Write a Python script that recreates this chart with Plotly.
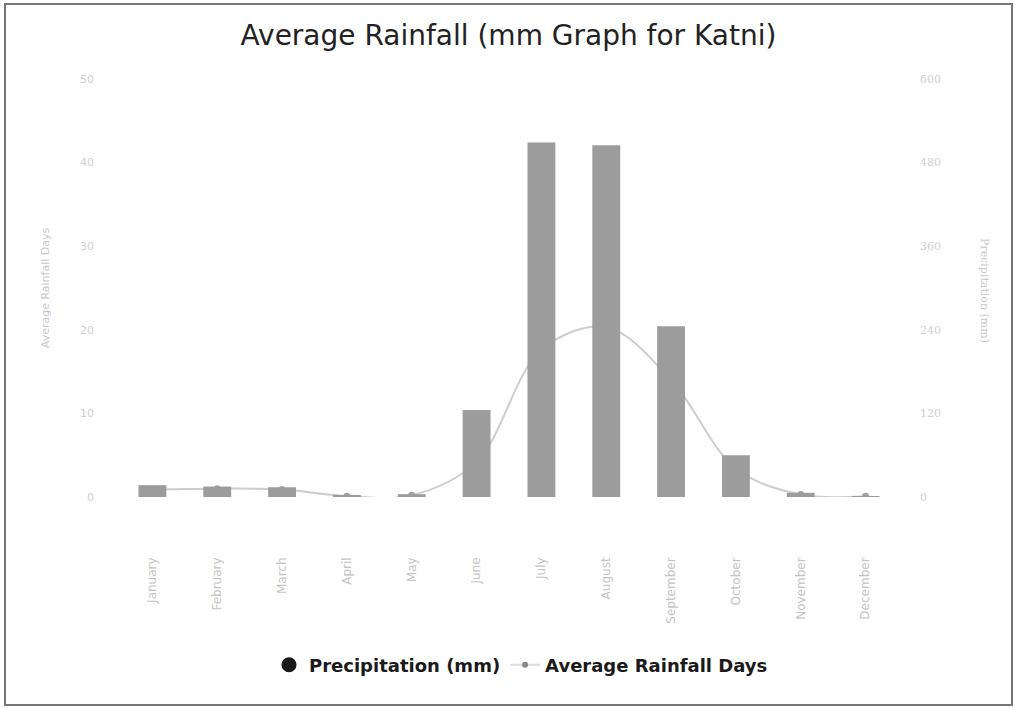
import plotly.graph_objects as go

months = ["January", "February", "March", "April", "May", "June", "July",
          "August", "September", "October", "November", "December"]
precip_mm = [17, 15, 14, 3, 4, 125, 509, 505, 245, 60, 6, 1]
rain_days = [0.9, 1.0, 0.9, 0.1, 0.2, 4.2, 17.6, 20.3, 14.0, 3.4, 0.3, 0.1]
left_ticks = [0, 10, 20, 30, 40, 50]
right_ticks = [0, 120, 240, 360, 480, 600]

W, H = 1017, 708
L, R, T, B = 120, 119, 79, 211
pw, ph = W - L - R, H - T - B

fig = go.Figure()
fig.add_trace(go.Bar(
    x=months, y=precip_mm, yaxis="y2", name="Precipitation (mm)",
    marker=dict(color="#9c9c9c", line=dict(width=0)), showlegend=False,
))
fig.add_trace(go.Scatter(
    x=months, y=rain_days, yaxis="y", name="Average Rainfall Days",
    mode="lines+markers", line=dict(color="#cdcdcd", width=2, shape="spline"),
    marker=dict(color="#a0a0a0", size=7), showlegend=False,
))
# legend entries
fig.add_trace(go.Scatter(
    x=[None], y=[None], name="Precipitation (mm)", mode="markers",
    marker=dict(color="#1a1a1a", size=15, symbol="circle"),
))
fig.add_trace(go.Scatter(
    x=[None], y=[None], name="Average Rainfall Days", mode="lines+markers",
    line=dict(color="#dddddd", width=2), marker=dict(color="#888888", size=6),
))

def px_x(x):
    return (x - L) / pw

def px_y(y):
    return (H - B - y) / ph

fig.update_layout(
    width=W, height=H,
    margin=dict(l=L, r=R, t=T, b=B, autoexpand=False),
    paper_bgcolor="white", plot_bgcolor="white",
    title=dict(text="Average Rainfall (mm Graph for Katni)", x=0.5, xanchor="center",
               y=1 - 35 / H, yanchor="middle",
               font=dict(family="DejaVu Sans", size=28, color="#222222")),
    bargap=0.57,
    xaxis=dict(
        range=[-0.5, len(months) - 0.5],
        tickangle=-90, showgrid=False, zeroline=False, showline=False,
        ticks="", ticklabelstandoff=57, automargin=False,
        tickfont=dict(family="DejaVu Sans", size=12, color="#c4c4c4"),
    ),
    yaxis=dict(
        range=[0, 50], tickvals=left_ticks, showgrid=False, zeroline=False,
        showline=False, ticks="", ticklabelstandoff=25, automargin=False,
        tickfont=dict(family="DejaVu Sans", size=11, color="#cfcfcf"),
        title=dict(text="Average Rainfall Days", standoff=28,
                   font=dict(family="DejaVu Sans", size=11, color="#c8c8c8")),
    ),
    yaxis2=dict(
        range=[0, 600], tickvals=right_ticks, overlaying="y", side="right",
        showgrid=False, zeroline=False, showline=False, ticks="",
        ticklabelstandoff=21, automargin=False,
        tickfont=dict(family="DejaVu Serif", size=11, color="#cfcfcf"),
    ),
    legend=dict(
        orientation="h", x=px_x(521), xanchor="center", y=px_y(665), yanchor="middle",
        font=dict(family="DejaVu Sans", size=18, color="#1a1a1a", weight="bold"),
        itemwidth=30, traceorder="normal",
    ),
    shapes=[dict(
        type="rect", xref="paper", yref="paper",
        x0=px_x(5), x1=px_x(1012), y0=px_y(705), y1=px_y(4),
        line=dict(color="#777777", width=2), fillcolor="rgba(0,0,0,0)", layer="below",
    )],
    annotations=[dict(
        text="Precipitation (mm)", textangle=90, xref="paper", yref="paper",
        x=px_x(985), y=px_y(290), xanchor="center", yanchor="middle",
        showarrow=False, font=dict(family="DejaVu Serif", size=11, color="#c8c8c8"),
    )],
)

fig.write_html("out.html", config={"displayModeBar": False},
               post_script="document.body.style.margin='0px';")
